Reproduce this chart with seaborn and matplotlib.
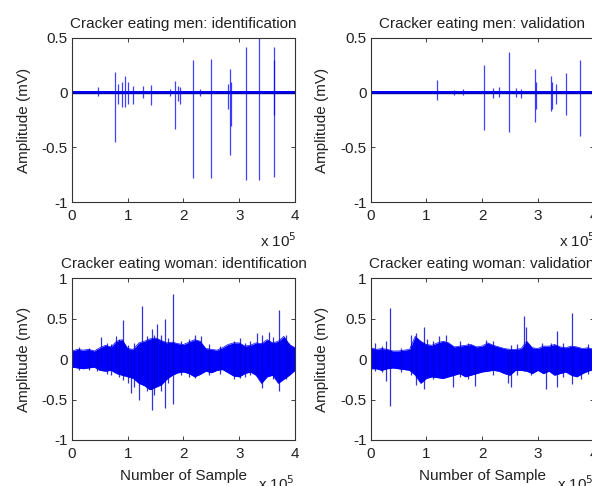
"""Cracker eating EMG traces, 2x2 MATLAB-style panels."""
import numpy as np
import pandas as pd
import matplotlib
matplotlib.use("Agg")
import matplotlib.pyplot as plt
import seaborn as sns

# x positions are in units of 10^5 samples
envelope_x = [0.0, 0.1, 0.2, 0.3, 0.4, 0.5, 0.6, 0.7, 0.8, 0.9,
              1.0, 1.1, 1.2, 1.3, 1.4, 1.5, 1.6, 1.7, 1.8, 1.9,
              2.0, 2.1, 2.2, 2.3, 2.4, 2.5, 2.6, 2.7, 2.8, 2.9,
              3.0, 3.1, 3.2, 3.3, 3.4, 3.5, 3.6, 3.7, 3.8, 3.9, 4.0]

# --- men: identification (spike x, spike top, spike bottom) ---
men_id_x = [0.47, 0.77, 0.82, 0.90, 0.95, 1.01, 1.09, 1.28, 1.42, 1.75, 1.84,
            1.90, 1.94, 2.17, 2.30, 2.50, 2.80, 2.83, 2.86, 3.13, 3.36, 3.63, 3.63]
men_id_top = [0.05, 0.19, 0.08, 0.10, 0.15, 0.10, 0.06, 0.06, 0.07, 0.03, 0.11,
              0.06, 0.05, 0.30, 0.03, 0.31, 0.08, 0.22, 0.10, 0.42, 0.50, 0.42, 0.30]
men_id_bottom = [-0.03, -0.45, -0.10, -0.13, -0.13, -0.10, -0.10, -0.05, -0.11, -0.03, -0.33,
                 -0.08, -0.10, -0.78, -0.03, -0.78, -0.15, -0.57, -0.30, -0.80, -0.80, -0.77, -0.20]

# --- men: validation ---
men_val_x = [1.20, 1.50, 1.65, 2.03, 2.20, 2.30, 2.48, 2.60, 2.70, 2.95, 2.97,
             3.24, 3.26, 3.33, 3.50, 3.76, 3.99]
men_val_top = [0.12, 0.02, 0.03, 0.25, 0.04, 0.05, 0.37, 0.04, 0.03, 0.22, 0.10,
               0.15, 0.10, 0.08, 0.18, 0.30, 0.43]
men_val_bottom = [-0.07, -0.02, -0.02, -0.34, -0.05, -0.04, -0.36, -0.04, -0.05, -0.27, -0.15,
                  -0.17, -0.15, -0.10, -0.20, -0.40, -0.55]

men_noise = 0.015

# --- woman: identification ---
woman_id_upper = [0.10, 0.12, 0.11, 0.12, 0.10, 0.14, 0.17, 0.15, 0.22, 0.24,
                  0.13, 0.12, 0.20, 0.22, 0.25, 0.26, 0.23, 0.20, 0.21, 0.19,
                  0.18, 0.21, 0.24, 0.22, 0.13, 0.12, 0.11, 0.14, 0.18, 0.20,
                  0.20, 0.16, 0.17, 0.20, 0.19, 0.24, 0.20, 0.22, 0.28, 0.18, 0.14]
woman_id_lower = [-0.10, -0.11, -0.12, -0.11, -0.10, -0.14, -0.15, -0.14, -0.18, -0.20,
                  -0.22, -0.24, -0.30, -0.33, -0.38, -0.35, -0.32, -0.25, -0.20, -0.17,
                  -0.16, -0.18, -0.22, -0.19, -0.15, -0.17, -0.14, -0.13, -0.17, -0.21,
                  -0.22, -0.18, -0.16, -0.20, -0.30, -0.22, -0.20, -0.30, -0.25, -0.20, -0.14]
woman_id_x = [0.52, 0.79, 0.92, 1.06, 1.20, 1.26, 1.43, 1.53, 1.66, 1.81,
              2.21, 2.32, 3.01, 3.31, 3.40, 3.54, 3.72, 3.84,
              0.12, 0.30, 0.45, 0.62, 0.70, 0.85, 1.00, 1.12, 1.35, 1.48, 1.60,
              1.72, 1.95, 2.10, 2.45, 2.65, 2.90, 3.10, 3.20, 3.60, 3.90]
woman_id_top = [0.27, 0.28, 0.48, 0.10, 0.15, 0.65, 0.37, 0.43, 0.50, 0.81,
                0.30, 0.29, 0.26, 0.32, 0.30, 0.33, 0.61, 0.30,
                0.15, 0.14, 0.12, 0.20, 0.18, 0.25, 0.17, 0.20, 0.28, 0.30, 0.30,
                0.26, 0.22, 0.25, 0.18, 0.16, 0.22, 0.20, 0.22, 0.27, 0.20]
woman_id_bottom = [-0.05, -0.10, -0.26, -0.42, -0.50, -0.20, -0.63, -0.30, -0.61, -0.55,
                   -0.24, -0.10, -0.24, -0.20, -0.36, -0.10, -0.40, -0.25,
                   -0.13, -0.14, -0.15, -0.18, -0.20, -0.22, -0.30, -0.35, -0.40, -0.45, -0.40,
                   -0.30, -0.20, -0.22, -0.20, -0.18, -0.25, -0.22, -0.20, -0.25, -0.20]

# --- woman: validation ---
woman_val_upper = [0.14, 0.12, 0.13, 0.12, 0.10, 0.10, 0.11, 0.12, 0.28, 0.22,
                   0.18, 0.17, 0.20, 0.22, 0.20, 0.15, 0.16, 0.17, 0.18, 0.15,
                   0.16, 0.20, 0.17, 0.15, 0.13, 0.12, 0.12, 0.13, 0.22, 0.14,
                   0.13, 0.16, 0.16, 0.18, 0.15, 0.14, 0.16, 0.15, 0.13, 0.14, 0.12]
woman_val_lower = [-0.12, -0.12, -0.14, -0.12, -0.11, -0.12, -0.13, -0.14, -0.20, -0.30,
                   -0.24, -0.22, -0.23, -0.24, -0.22, -0.20, -0.18, -0.22, -0.20, -0.18,
                   -0.16, -0.15, -0.14, -0.15, -0.18, -0.20, -0.14, -0.14, -0.15, -0.18,
                   -0.14, -0.18, -0.15, -0.20, -0.18, -0.16, -0.20, -0.22, -0.18, -0.15, -0.13]
woman_val_x = [0.27, 0.35, 0.95, 1.02, 1.23, 1.35, 1.48, 1.74, 1.88, 2.07, 2.46,
               2.52, 2.75, 2.79, 2.88, 3.07, 3.14, 3.23, 3.35, 3.61, 3.78,
               0.08, 0.20, 0.55, 0.72, 0.82, 1.12, 1.60, 2.20, 2.62, 3.45, 3.90]
woman_val_top = [0.22, 0.63, 0.39, 0.25, 0.28, 0.30, 0.15, 0.20, 0.10, 0.24, 0.10,
                 0.17, 0.53, 0.39, 0.10, 0.20, 0.10, 0.20, 0.35, 0.57, 0.10,
                 0.20, 0.16, 0.14, 0.30, 0.32, 0.22, 0.22, 0.22, 0.18, 0.20, 0.18]
woman_val_bottom = [-0.27, -0.58, -0.37, -0.20, -0.15, -0.20, -0.35, -0.25, -0.33, -0.10, -0.29,
                    -0.35, -0.15, -0.10, -0.20, -0.10, -0.37, -0.10, -0.35, -0.31, -0.25,
                    -0.15, -0.16, -0.16, -0.20, -0.32, -0.25, -0.22, -0.20, -0.20, -0.22, -0.18]

titles = ["Cracker eating men: identification", "Cracker eating men: validation",
          "Cracker eating woman: identification", "Cracker eating woman: validation"]
x_ticks = [0, 1, 2, 3, 4]
men_y_ticks = [-1, -0.5, 0, 0.5]
woman_y_ticks = [-1, -0.5, 0, 0.5, 1]

sns.set_theme(style="ticks")
plt.rcParams["font.family"] = ["Liberation Sans", "DejaVu Sans"]
plt.rcParams["xtick.direction"] = "in"
plt.rcParams["ytick.direction"] = "in"

BLUE = "#0000ff"
TXT = "#222222"
FS = 11

fig = plt.figure(figsize=(5.92, 4.86), dpi=100)
ax_pos = [
    [0.1216, 0.584, 0.3767, 0.338],
    [0.626, 0.584, 0.3767, 0.338],
    [0.1216, 0.0947, 0.3767, 0.333],
    [0.626, 0.0947, 0.3767, 0.333],
]
axes = [fig.add_axes(p) for p in ax_pos]


def fmt(v):
    return "%g" % v


def style_axis(ax, title, yticks, ylim, bottom_row):
    ax.set_xlim(0, 4)
    ax.set_ylim(*ylim)
    ax.set_xticks(x_ticks)
    ax.set_xticklabels([fmt(t) for t in x_ticks], fontsize=FS)
    ax.set_yticks(yticks)
    ax.set_yticklabels([fmt(t) for t in yticks], fontsize=FS)
    ax.tick_params(top=True, right=True, length=3, width=0.6, colors=TXT)
    ax.tick_params(axis="x", pad=5)
    ax.tick_params(axis="y", pad=3)
    for s in ax.spines.values():
        s.set_visible(True)
        s.set_linewidth(0.8)
        s.set_color("#333333")
    ax.set_title(title, fontsize=FS, pad=7, color=TXT)
    ax.set_ylabel("Amplitude (mV)", fontsize=FS, color=TXT, labelpad=8)
    if bottom_row:
        ax.set_xlabel("Number of Sample", fontsize=FS, color=TXT, labelpad=6)
        ax.text(1.0, -0.21, r"x 10$^5$", transform=ax.transAxes, ha="right", va="top",
                fontsize=FS, color=TXT)
    else:
        ax.set_xlabel("")
        ax.text(1.01, -0.18, r"x 10$^5$", transform=ax.transAxes, ha="right", va="top",
                fontsize=FS, color=TXT)


# men panels: thin baseline trace plus spikes
for ax, xs, tops, bots, title in [
    (axes[0], men_id_x, men_id_top, men_id_bottom, titles[0]),
    (axes[1], men_val_x, men_val_top, men_val_bottom, titles[1]),
]:
    base = pd.DataFrame({"x": [0, 4], "y": [0, 0]})
    ax.fill_between([0, 4], [-men_noise] * 2, [men_noise] * 2, color=BLUE, lw=0)
    sns.lineplot(data=base, x="x", y="y", ax=ax, color="#0000aa", lw=1.0)
    ax.vlines(xs, bots, tops, color=BLUE, lw=0.9, alpha=0.75)
    style_axis(ax, title, men_y_ticks, (-1, 0.5), False)

# woman panels: dense noise envelope plus spikes
for ax, up, lo, xs, tops, bots, title in [
    (axes[2], woman_id_upper, woman_id_lower, woman_id_x, woman_id_top, woman_id_bottom, titles[2]),
    (axes[3], woman_val_upper, woman_val_lower, woman_val_x, woman_val_top, woman_val_bottom, titles[3]),
]:
    env = pd.DataFrame({"x": envelope_x, "upper": up, "lower": lo})
    ax.fill_between(env["x"], env["lower"], env["upper"], color=BLUE, lw=0)
    sns.lineplot(data=env, x="x", y="upper", ax=ax, color=BLUE, lw=0.5)
    sns.lineplot(data=env, x="x", y="lower", ax=ax, color=BLUE, lw=0.5)
    ax.vlines(xs, bots, tops, color="#0000cc", lw=0.9, alpha=0.8)
    style_axis(ax, title, woman_y_ticks, (-1, 1), True)

fig.savefig("out.png", dpi=100)
